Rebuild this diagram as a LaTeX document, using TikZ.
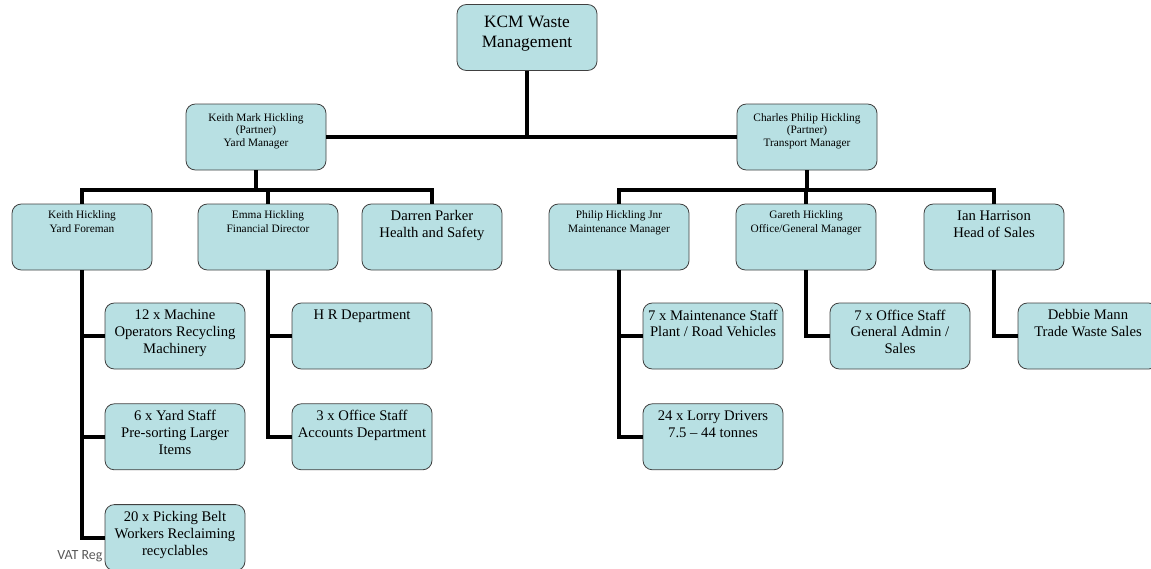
\documentclass[tikz,border=0pt]{standalone}
\usepackage{fontspec}
\setmainfont{Liberation Serif}
\newfontfamily\vatfont{Carlito}
\usetikzlibrary{positioning}
\definecolor{boxfill}{RGB}{184,224,227}

\begin{document}
\begin{tikzpicture}[
    x=0.75pt, y=-0.75pt,
    node distance=25.5pt,
    box/.style={draw=black!75, fill=boxfill, rounded corners=7pt, line width=0.6pt,
        inner xsep=3pt, inner ysep=5pt,
        execute at begin node={\begin{minipage}[t][39.5pt][t]{99pt}\centering},
        execute at end node={\end{minipage}}},
    big/.style={font=\fontsize{13}{15.5}\selectfont, execute at begin node={\vspace*{3.5pt}}},
    mgr/.style={font=\fontsize{8.5}{9.4}\selectfont, execute at begin node={\vspace*{2pt}}},
    small/.style={font=\fontsize{8.5}{10.5}\selectfont},
    mid/.style={font=\fontsize{11}{12.7}\selectfont},
    link/.style={line width=3pt}
]
\useasboundingbox (0,0) rectangle (1151,568);

% top and partners
\node[box, big] (kcm) at (527,37.5) {KCM Waste\\Management};
\node[box, mgr] (kmh) at (256,137) {Keith Mark Hickling\\(Partner)\\Yard Manager};
\node[box, mgr] (cph) at (807,137) {Charles Philip Hickling\\(Partner)\\Transport Manager};

% yard side
\node[box, small] (kh) at (82,237) {Keith Hickling\\Yard Foreman};
\node[box, small] (emma) at (268,237) {Emma Hickling\\Financial Director};
\node[box, mid] (darren) at (432,237) {Darren Parker\\Health and Safety};

% transport side
\node[box, small] (phil) at (619,237) {Philip Hickling Jnr\\Maintenance Manager};
\node[box, small] (gareth) at (806,237) {Gareth Hickling\\Office/General Manager};
\node[box, mid] (ian) at (994,237) {Ian Harrison\\Head of Sales};

% staff
\node[font=\vatfont\fontsize{10.5}{12}\selectfont, text=black!65, anchor=west, inner sep=0pt] (vat) at (57,556) {VAT Reg};
\node[box, mid] (mach) at (175,336) {12 x Machine\\Operators Recycling\\Machinery};
\node[box, mid, below=of mach] (yard) {6 x Yard Staff\\Pre-sorting Larger\\Items};
\node[box, mid, below=of yard] (pick) {20 x Picking Belt\\Workers Reclaiming\\recyclables};
\node[box, mid] (hr) at (362,336) {H R Department};
\node[box, mid, below=of hr] (acc) {3 x Office Staff\\Accounts Department};
\node[box, mid] (maint) at (713,336) {7 x Maintenance Staff\\Plant / Road Vehicles};
\node[box, mid, below=of maint] (lorry) {24 x Lorry Drivers\\7.5 -- 44 tonnes};
\node[box, mid] (office) at (900,336) {7 x Office Staff\\General Admin /\\Sales};
\node[box, mid] (debbie) at (1088,336) {Debbie Mann\\Trade Waste Sales};

% connectors
\draw[link] (kcm.south) -- (kcm.south |- kmh.east);
\draw[link] (kmh.east) -- (cph.west);
\draw[link] (kmh.south) -- ++(0,20) -| (kh.north);
\draw[link] (kmh.south) -- ++(0,20) -| (emma.north);
\draw[link] (kmh.south) -- ++(0,20) -| (darren.north);
\draw[link] (cph.south) -- ++(0,20) -| (phil.north);
\draw[link] (cph.south) -- ++(0,20) -| (gareth.north);
\draw[link] (cph.south) -- ++(0,20) -| (ian.north);
\draw[link] (kh.south) |- (mach.west);
\draw[link] (kh.south) |- (yard.west);
\draw[link] (kh.south) |- (pick.west);
\draw[link] (emma.south) |- (hr.west);
\draw[link] (emma.south) |- (acc.west);
\draw[link] (phil.south) |- (maint.west);
\draw[link] (phil.south) |- (lorry.west);
\draw[link] (gareth.south) |- (office.west);
\draw[link] (ian.south) |- (debbie.west);
\end{tikzpicture}
\end{document}
